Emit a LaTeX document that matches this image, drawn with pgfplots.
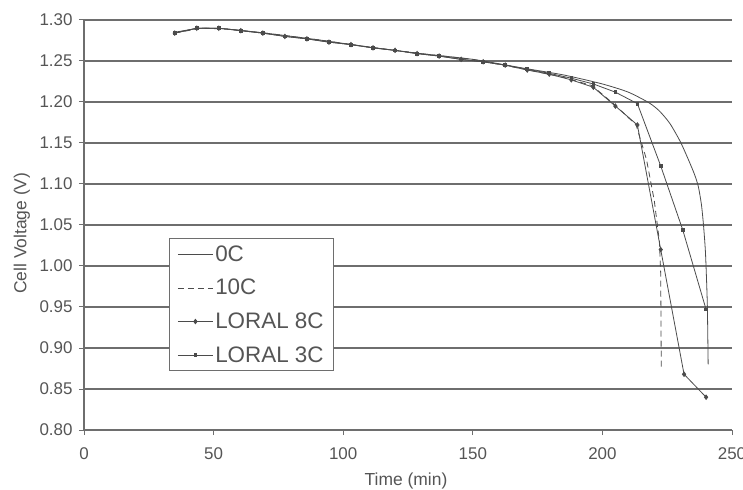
\documentclass[border=0pt]{standalone}
\usepackage{pgfplots}
\pgfplotsset{compat=1.18}
\usepackage{fontspec}
\setmainfont{Liberation Sans}
\definecolor{txt}{RGB}{85,85,85}
\definecolor{ln}{RGB}{75,75,75}
\definecolor{grd}{RGB}{110,110,110}
\begin{document}
\begin{tikzpicture}
\useasboundingbox (-84bp,-60bp) rectangle (659bp,430bp);
\begin{axis}[
  at={(0,0)}, anchor=south west,
  scale only axis, width=648bp, height=410bp,
  xmin=0, xmax=250, ymin=0.8, ymax=1.3,
  xtick={0,50,100,150,200,250},
  ytick={0.80,0.85,0.90,0.95,1.00,1.05,1.10,1.15,1.20,1.25,1.30},
  yticklabel style={/pgf/number format/fixed,/pgf/number format/fixed zerofill,/pgf/number format/precision=2, xshift=-3bp},
  /pgf/number format/assume math mode=true,
  axis x line*=bottom, axis y line*=left,
  axis line style={grd, line width=1.4bp},
  ymajorgrids, grid style={grd, line width=1.4bp},
  tick align=outside, major tick length=5bp,
  tick style={grd, line width=1bp},
  ticklabel style={font=\fontsize{17}{19}\selectfont, text=txt},
  xticklabel style={yshift=-9bp},
  xlabel={Time (min)}, ylabel={Cell Voltage (V)},
  label style={font=\fontsize{17.5}{19}\selectfont, text=txt},
  xlabel style={at={(axis description cs:0.497,-0.124)}, anchor=center},
  ylabel style={at={(axis description cs:-0.096,0.48)}, anchor=center},
  legend style={at={(axis description cs:0.131,0.468)}, anchor=north west,
    draw=grd, line width=1.2bp, fill=white, font=\fontsize{22.5}{24}\selectfont,
    text=txt, row sep=12.5bp, inner xsep=8bp, inner ysep=5bp, cells={anchor=west}},
  legend image code/.code={\draw[mark repeat=2,mark phase=2,#1] plot coordinates {(0bp,0bp) (17.5bp,0bp) (35bp,0bp)};},
  clip=false
]
% 0C
\addplot[ln, line width=0.8bp, no marks, smooth, tension=0.4] coordinates {
(35,1.285)(45,1.290)(55,1.289)(70,1.284)(90,1.276)(110,1.267)(130,1.259)(150,1.252)(170,1.241)(185,1.233)(200,1.222)(210,1.212)(218,1.199)(222,1.189)(226,1.174)(230,1.152)(233,1.131)(235.5,1.112)(237,1.097)(238.2,1.075)(239,1.050)(239.7,1.020)(240.1,0.990)(240.5,0.950)(240.8,0.880)};
\addlegendentry{0C}
% 10C
\addplot[ln, line width=0.8bp, dashed, dash pattern=on 6bp off 4bp, no marks] coordinates {
(35,1.284)(45,1.290)(55,1.289)(70,1.284)(90,1.276)(110,1.267)(130,1.259)(150,1.252)(170,1.240)(185,1.230)(196,1.220)(205,1.196)(213,1.172)(217,1.130)(220,1.080)(222,1.030)(222.5,0.990)(222.7,0.877)};
\addlegendentry{10C}
% LORAL 8C
\addplot[ln, line width=0.8bp, mark=diamond*, mark size=2.2bp, mark options={fill=ln, draw=ln}] coordinates {
(35,1.284)(43.5,1.290)(52,1.290)(60.5,1.287)(69,1.284)(77.5,1.280)(86,1.277)(94.5,1.273)(103,1.270)(111.5,1.266)(120,1.263)(128.5,1.259)(137,1.256)(145.5,1.252)(154,1.249)(162.5,1.245)(171,1.239)(179.5,1.234)(188,1.227)(196.5,1.218)(205,1.195)(213.5,1.172)(222.5,1.020)(231.5,0.868)(240,0.840)};
\addlegendentry{LORAL 8C}
% LORAL 3C
\addplot[ln, line width=0.8bp, mark=square*, mark size=1.4bp, mark options={fill=ln, draw=ln}] coordinates {
(35,1.284)(43.5,1.290)(52,1.290)(60.5,1.287)(69,1.284)(77.5,1.280)(86,1.277)(94.5,1.273)(103,1.270)(111.5,1.266)(120,1.263)(128.5,1.259)(137,1.256)(145.5,1.252)(154,1.249)(162.5,1.245)(171,1.240)(179.5,1.235)(188,1.229)(196.5,1.222)(205,1.212)(213.5,1.198)(222.5,1.122)(231,1.044)(240,0.947)};
\addlegendentry{LORAL 3C}
\end{axis}
\end{tikzpicture}
\end{document}
